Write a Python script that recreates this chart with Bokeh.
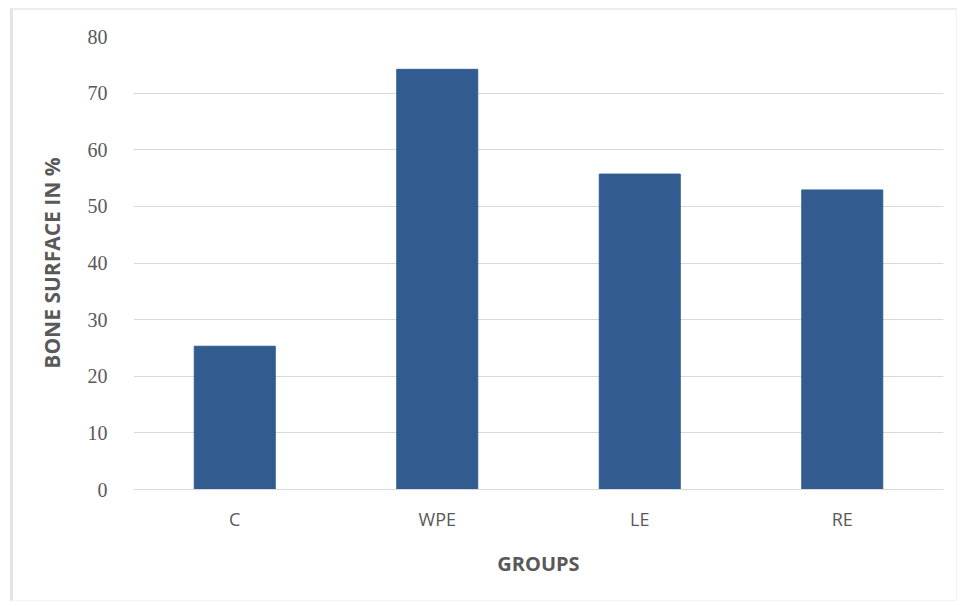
from bokeh.plotting import figure
from bokeh.models import ColumnDataSource, FixedTicker
from bokeh.embed import file_html
from bokeh.resources import INLINE

groups = ["C", "WPE", "LE", "RE"]
bone_surface = [25.3, 74.2, 55.7, 52.9]
y_ticks = [0, 10, 20, 30, 40, 50, 60, 70, 80]

source = ColumnDataSource(data=dict(group=groups, value=bone_surface))

p = figure(
    x_range=groups,
    y_range=(0, 80),
    width=947,
    height=593,
    margin=(8, 3, 2, 10),
    output_backend="svg",
    toolbar_location=None,
    min_border_left=120,
    min_border_right=17,
    min_border_top=26,
    min_border_bottom=114,
)
p.styles = {
    "border-left": "3px solid #e4e4e4",
    "border-top": "2px solid #ececec",
    "border-right": "1px solid #f2f2f2",
    "border-bottom": "1px solid #f4f4f4",
}

p.vbar(x="group", top="value", width=0.4, source=source,
       fill_color="#325c8f", line_color="#325c8f")

p.outline_line_color = None
p.background_fill_color = "white"
p.border_fill_color = "white"
p.xgrid.grid_line_color = None
p.ygrid.grid_line_color = "#d9d9d9"
p.ygrid.grid_line_width = 1.2

p.yaxis.ticker = FixedTicker(ticks=y_ticks)
p.yaxis.axis_line_color = None
p.yaxis.major_tick_line_color = None
p.yaxis.minor_tick_line_color = None
p.yaxis.major_label_standoff = 20
p.yaxis.major_label_text_font = "Liberation Serif"
p.yaxis.major_label_text_font_size = "20px"
p.yaxis.major_label_text_color = "#595959"
p.yaxis.axis_label = "BONE SURFACE IN %"
p.yaxis.axis_label_text_font = "Open Sans"
p.yaxis.axis_label_text_font_style = "bold"
p.yaxis.axis_label_text_font_size = "21px"
p.yaxis.axis_label_text_color = "#595959"
p.yaxis.axis_label_standoff = 19

p.xaxis.axis_line_color = "#d9d9d9"
p.xaxis.axis_line_width = 1.2
p.xaxis.major_tick_line_color = None
p.xaxis.minor_tick_line_color = None
p.xaxis.major_label_standoff = 11
p.xaxis.major_label_text_font = "Open Sans"
p.xaxis.major_label_text_font_size = "18px"
p.xaxis.major_label_text_color = "#595959"
p.xaxis.axis_label = "GROUPS"
p.xaxis.axis_label_text_font = "Open Sans"
p.xaxis.axis_label_text_font_style = "bold"
p.xaxis.axis_label_text_font_size = "20px"
p.xaxis.axis_label_text_color = "#595959"
p.xaxis.axis_label_standoff = 16

open("out.html", "w").write(file_html(p, INLINE))
